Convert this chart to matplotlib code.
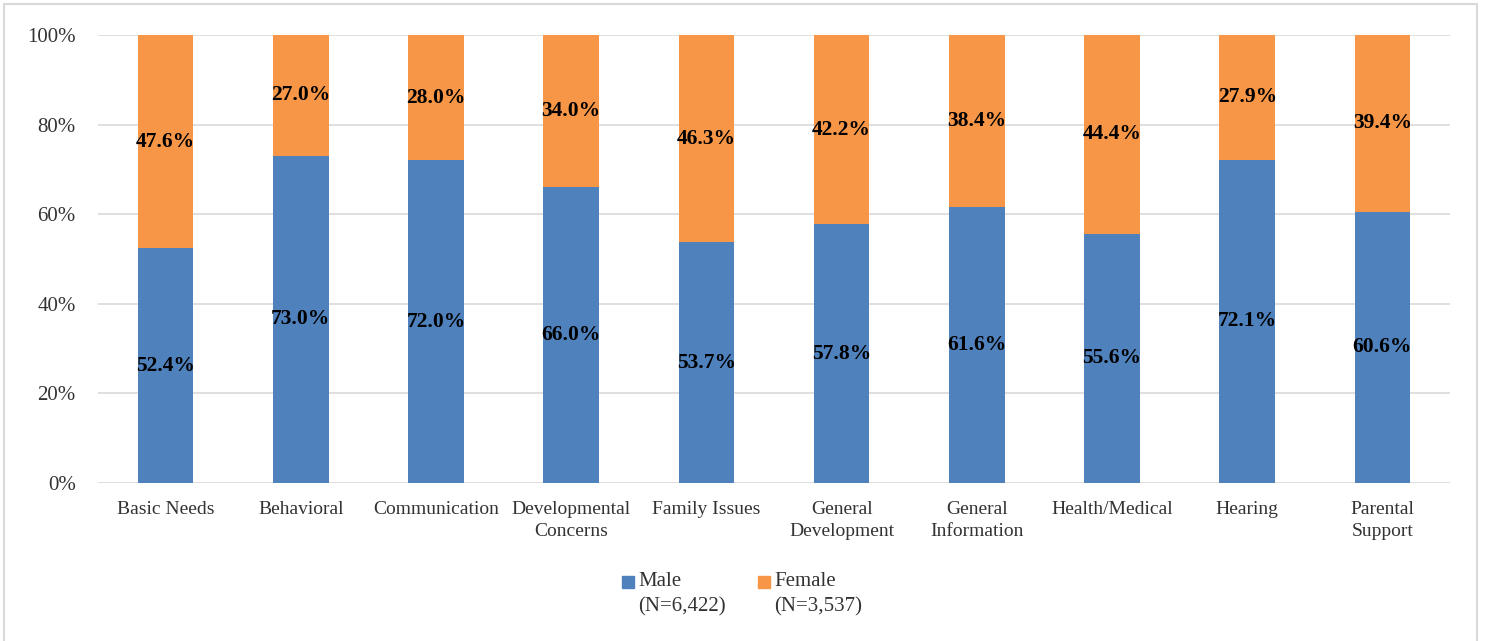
import numpy as np
import matplotlib.pyplot as plt
from matplotlib.patches import Rectangle

categories = ["Basic Needs", "Behavioral", "Communication", "Developmental\nConcerns",
              "Family Issues", "General\nDevelopment", "General\nInformation",
              "Health/Medical", "Hearing", "Parental\nSupport"]
male = [52.4, 73.0, 72.0, 66.0, 53.7, 57.8, 61.6, 55.6, 72.1, 60.6]
female = [47.6, 27.0, 28.0, 34.0, 46.3, 42.2, 38.4, 44.4, 27.9, 39.4]
series_names = ["Male", "Female"]
series_n = ["(N=6,422)", "(N=3,537)"]
yticks = [0, 20, 40, 60, 80, 100]

BLUE = "#4f81bd"
ORANGE = "#f79646"
TXT = "#333333"

plt.rcParams["font.family"] = ["Liberation Serif", "DejaVu Serif"]

W, H = 1485, 641
fig = plt.figure(figsize=(W / 100, H / 100), dpi=100)

# light grey frame around the chart area
fig.patches.append(Rectangle((4 / W, -0.01), 1473 / W, 1 - 4 / H + 0.01,
                             transform=fig.transFigure, fill=False,
                             edgecolor="#d9d9d9", linewidth=1.5))

ax = fig.add_axes([98 / W, 1 - 483 / H, (1450 - 98) / W, (483 - 35) / H])

x = np.arange(len(categories))
ax.bar(x, male, width=0.41, color=BLUE, zorder=3)
ax.bar(x, female, width=0.41, bottom=male, color=ORANGE, zorder=3)

for i in range(len(categories)):
    ax.text(x[i], male[i] / 2, f"{male[i]:.1f}%", ha="center", va="center",
            fontsize=15.5, fontweight="bold", zorder=4)
    ax.text(x[i], male[i] + female[i] / 2, f"{female[i]:.1f}%", ha="center", va="center",
            fontsize=15.5, fontweight="bold", zorder=4)

ax.set_xlim(-0.5, len(categories) - 0.5)
ax.set_ylim(0, 100)
ax.set_yticks(yticks)
ax.set_yticklabels([f"{v}%" for v in yticks], fontsize=15, color=TXT)
ax.set_xticks(x)
ax.set_xticklabels(categories, fontsize=14, color=TXT, linespacing=1.35)
ax.tick_params(length=0, pad=13)
ax.tick_params(axis="y", pad=16)
ax.grid(axis="y", color="#d9d9d9", linewidth=1.2, zorder=0)
for s in ax.spines.values():
    s.set_visible(False)

# legend: square aligned with first line, N on second line
legend_x = [622, 758]
for k, (name, n) in enumerate(zip(series_names, series_n)):
    col = [BLUE, ORANGE][k]
    x0 = legend_x[k]
    fig.patches.append(Rectangle((x0 / W, 1 - 588 / H), 12 / W, 12 / H,
                                 transform=fig.transFigure, color=col))
    fig.text((x0 + 16) / W, 1 - 582 / H, name, ha="left", va="center",
             fontsize=15, color=TXT)
    fig.text((x0 + 16) / W, 1 - 607 / H, n, ha="left", va="center",
             fontsize=15, color=TXT)

fig.savefig("out.png", dpi=100)
